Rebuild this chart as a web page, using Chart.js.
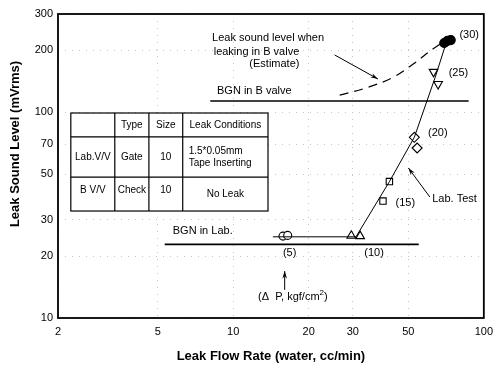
<!DOCTYPE html>
<html>
<head>
<meta charset="utf-8">
<script src="https://cdn.jsdelivr.net/npm/chart.js@4/dist/chart.umd.min.js"></script>
<style>
  body { margin: 0; background: #fff; }
  #wrap { width: 500px; height: 366px; }
</style>
</head>
<body>
<div id="wrap"><canvas id="c" width="500" height="366"></canvas></div>
<script>
// tick labels
const xTicks = [2, 5, 10, 20, 30, 50, 100];
const yTicks = [10, 20, 30, 50, 70, 100, 200, 300];

// measured points (leak flow rate cc/min, sound level mVrms)
const openCircle = [{x: 15.8, y: 25.0}, {x: 16.5, y: 25.2}];   // dP 5
const upTriangle = [{x: 29.6, y: 25.1}, {x: 32.1, y: 25.0}];   // dP 10
const square     = [{x: 39.6, y: 37.0}, {x: 42.0, y: 46.0}];   // dP 15
const diamond    = [{x: 52.8, y: 75.5}, {x: 54.2, y: 67.0}];   // dP 20
const downTri    = [{x: 63.0, y: 157}, {x: 65.7, y: 137}];     // dP 25
const filledDot  = [{x: 69.5, y: 217}, {x: 71.6, y: 222}, {x: 73.8, y: 224}]; // dP 30

// lines
const labTestLine = [
  {x: 14.4, y: 24.8}, {x: 30.9, y: 24.8}, {x: 42.0, y: 46.0},
  {x: 52.8, y: 75.5}, {x: 64.0, y: 148}, {x: 71.0, y: 220}
];
const estimateCurve = [
  {x: 26.6, y: 121}, {x: 34.8, y: 132.6}, {x: 43.7, y: 148.3},
  {x: 52.3, y: 171.5}, {x: 62.6, y: 202.8}, {x: 69.8, y: 222}
];
const bgnBValve = [{x: 8.1, y: 113.4}, {x: 87, y: 113.4}];
const bgnLab    = [{x: 5.33, y: 22.8}, {x: 55, y: 22.8}];

const FONT = '"Liberation Sans", Arial, sans-serif';

function lineSet(data, width, dash) {
  return {
    data: data, showLine: true, borderColor: '#000', borderWidth: width,
    borderDash: dash || [], pointRadius: 0, fill: false, tension: 0
  };
}
function markSet(data, style, radius, filled, rotation) {
  return {
    data: data, showLine: false, pointStyle: style, pointRadius: radius,
    rotation: rotation || 0, borderColor: '#000', borderWidth: 1.1,
    backgroundColor: filled ? '#000' : '#fff'
  };
}

const extras = {
  id: 'extras',
  afterDraw(chart) {
    const ctx = chart.ctx;
    const xs = chart.scales.x, ys = chart.scales.y;
    const X = v => xs.getPixelForValue(v), Y = v => ys.getPixelForValue(v);
    const a = chart.chartArea;

    ctx.save();
    // frame
    ctx.strokeStyle = '#000';
    ctx.lineWidth = 1.8;
    ctx.strokeRect(a.left, a.top, a.right - a.left, a.bottom - a.top);

    // axis titles
    ctx.fillStyle = '#000';
    ctx.font = 'bold 13px ' + FONT;
    ctx.textAlign = 'center';
    ctx.textBaseline = 'middle';
    ctx.fillText('Leak Flow Rate (water, cc/min)', (a.left + a.right) / 2, 356);
    ctx.save();
    ctx.translate(15, 144);
    ctx.rotate(-Math.PI / 2);
    ctx.fillText('Leak Sound Level (mVrms)', 0, 0);
    ctx.restore();

    // annotations
    ctx.font = '11px ' + FONT;
    ctx.textAlign = 'left';
    ctx.fillText('Leak sound level when', X(8.24), Y(229));
    ctx.fillText('leaking in B valve', X(8.36), Y(196));
    ctx.fillText('(Estimate)', X(11.6), Y(171.5));
    ctx.fillText('BGN in B valve', X(8.62), Y(126.8));
    ctx.fillText('BGN in Lab.', X(5.74), Y(26.5));
    ctx.textAlign = 'center';
    ctx.fillText('(5)', X(16.8), Y(20.7));
    ctx.fillText('(10)', X(36.5), Y(20.7));
    ctx.fillText('(15)', X(48.6), Y(36.2));
    ctx.fillText('(20)', X(65.5), Y(79.2));
    ctx.fillText('(25)', X(79.2), Y(155));
    ctx.fillText('(30)', X(87.4), Y(237));
    ctx.fillText('Lab. Test', X(76.4), Y(37.9));
    // (Δ P, kgf/cm²)
    const px = X(17.3), py = Y(12.65);
    const t1 = '(\u0394  P, kgf/cm', t2 = ')';
    ctx.textAlign = 'left';
    const w1 = ctx.measureText(t1).width;
    ctx.font = '8px ' + FONT;
    const ws = ctx.measureText('2').width;
    ctx.font = '11px ' + FONT;
    const w2 = ctx.measureText(t2).width;
    const sx = px - (w1 + ws + w2) / 2;
    ctx.fillText(t1, sx, py);
    ctx.font = '8px ' + FONT;
    ctx.fillText('2', sx + w1, py - 4);
    ctx.font = '11px ' + FONT;
    ctx.fillText(t2, sx + w1 + ws, py);

    // arrows
    function arrow(x1, y1, x2, y2) {
      const ax = X(x1), ay = Y(y1), bx = X(x2), by = Y(y2);
      ctx.lineWidth = 1;
      ctx.beginPath(); ctx.moveTo(ax, ay); ctx.lineTo(bx, by); ctx.stroke();
      const ang = Math.atan2(by - ay, bx - ax);
      ctx.beginPath();
      ctx.moveTo(bx, by);
      ctx.lineTo(bx - 8 * Math.cos(ang - 0.3), by - 8 * Math.sin(ang - 0.3));
      ctx.lineTo(bx - 5 * Math.cos(ang), by - 5 * Math.sin(ang));
      ctx.lineTo(bx - 8 * Math.cos(ang + 0.3), by - 8 * Math.sin(ang + 0.3));
      ctx.closePath(); ctx.fill();
    }
    arrow(25.4, 189.7, 37.8, 145);
    arrow(60.9, 38.7, 50.0, 53.6);
    arrow(16.05, 13.7, 16.05, 16.9);

    // table
    const cx = [2.25, 3.37, 4.61, 6.29, 13.77].map(X);
    const ry = [99.1, 75.8, 48.4, 33.1].map(Y);
    ctx.fillStyle = '#fff';
    ctx.fillRect(cx[0], ry[0], cx[4] - cx[0], ry[3] - ry[0]);
    ctx.fillStyle = '#000';
    ctx.lineWidth = 1.2;
    ctx.strokeRect(cx[0], ry[0], cx[4] - cx[0], ry[3] - ry[0]);
    ctx.beginPath();
    for (let i = 1; i < 4; i++) { ctx.moveTo(cx[i], ry[0]); ctx.lineTo(cx[i], ry[3]); }
    for (let j = 1; j < 3; j++) { ctx.moveTo(cx[0], ry[j]); ctx.lineTo(cx[4], ry[j]); }
    ctx.stroke();
    ctx.font = '10px ' + FONT;
    ctx.textAlign = 'center';
    const cells = [
      ['', 'Type', 'Size', ['Leak Conditions']],
      ['Lab.V/V', 'Gate', '10', ['1.5*0.05mm', 'Tape Inserting']],
      ['B V/V', 'Check', '10', ['No Leak']]
    ];
    cells.forEach((row, j) => {
      const my = (ry[j] + ry[j + 1]) / 2;
      row.forEach((c, i) => {
        const mx = (cx[i] + cx[i + 1]) / 2;
        if (Array.isArray(c)) {
          if (c.length === 2) {
            ctx.textAlign = 'left';
            ctx.fillText(c[0], cx[i] + 6, my - 6);
            ctx.fillText(c[1], cx[i] + 6, my + 6);
            ctx.textAlign = 'center';
          } else {
            ctx.fillText(c[0], mx, my);
          }
        } else {
          ctx.fillText(c, mx, j === 2 ? my - 4 : my);
        }
      });
    });
    ctx.restore();
  }
};

new Chart(document.getElementById('c'), {
  type: 'scatter',
  data: {
    datasets: [
      lineSet(bgnBValve, 1.6),
      lineSet(bgnLab, 1.6),
      lineSet(labTestLine, 1),
      Object.assign(lineSet(estimateCurve, 1.2, [9, 6]), {tension: 0.4}),
      markSet(openCircle, 'circle', 4, false),
      markSet(upTriangle, 'triangle', 5, false),
      markSet(square, 'rect', 4.5, false),
      markSet(diamond, 'rectRot', 5, false),
      markSet(downTri, 'triangle', 5, false, 180),
      markSet(filledDot, 'circle', 4.5, true)
    ]
  },
  options: {
    responsive: false,
    animation: false,
    devicePixelRatio: 1,
    layout: { padding: { top: 14, right: 8, left: 0, bottom: 0 } },
    plugins: { legend: { display: false }, tooltip: { enabled: false } },
    scales: {
      x: {
        type: 'logarithmic', min: 2, max: 100,
        afterBuildTicks: s => { s.ticks = xTicks.map(v => ({value: v})); },
        afterFit: s => { s.height = 48; },
        ticks: { callback: v => String(v), color: '#000', padding: 7, maxRotation: 0,
                 font: { family: FONT, size: 11 } },
        grid: { color: '#c4c4c4', drawTicks: false },
        border: { display: false, dash: [1, 6] }
      },
      y: {
        type: 'logarithmic', min: 10, max: 300,
        afterBuildTicks: s => { s.ticks = yTicks.map(v => ({value: v})); },
        afterFit: s => { s.width = 58; },
        ticks: { callback: v => String(v), color: '#000', padding: 5,
                 font: { family: FONT, size: 11 } },
        grid: { color: '#c4c4c4', drawTicks: false },
        border: { display: false, dash: [1, 6] }
      }
    }
  },
  plugins: [extras]
});
</script>
</body>
</html>
